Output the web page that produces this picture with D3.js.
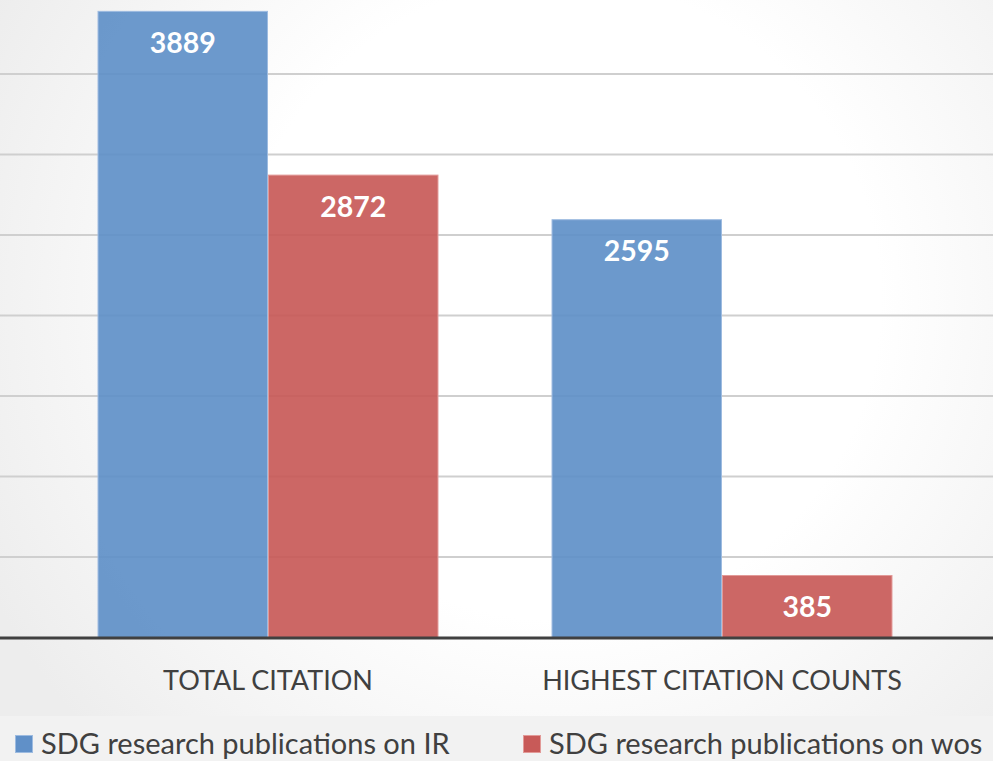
<!DOCTYPE html>
<html><head><meta charset="utf-8">
<script src="https://cdn.jsdelivr.net/npm/d3@7"></script>
<style>html,body{margin:0;padding:0;background:#fff;}svg{display:block;}</style>
</head><body>
<script>
const categories = ["TOTAL CITATION", "HIGHEST CITATION COUNTS"];
const seriesNames = ["SDG research publications on IR", "SDG research publications on wos"];
const irValues = [3889, 2595];
const wosValues = [2872, 385];
const gridTicks = [500, 1000, 1500, 2000, 2500, 3000, 3500];
const colors = ["#6090c8", "#c85a58"];

const W = 993, H = 761;
const svg = d3.select("body").append("svg").attr("width", W).attr("height", H)
  .style("font-family", "Lato, 'Open Sans', sans-serif");

const defs = svg.append("defs");
const rg = defs.append("radialGradient").attr("id", "bg").attr("gradientUnits", "userSpaceOnUse")
  .attr("cx", 560).attr("cy", 300).attr("r", 640);
rg.append("stop").attr("offset", "0.5").attr("stop-color", "#ffffff");
rg.append("stop").attr("offset", "1").attr("stop-color", "#ededed");
svg.append("rect").attr("width", W).attr("height", H).attr("fill", "url(#bg)");
svg.append("rect").attr("y", 716).attr("width", W).attr("height", H - 716).attr("fill", "#f2f2f2");

const x = d3.scaleBand().domain(categories).range([41, 949]).paddingInner(0.249).paddingOuter(0.1245);
const xs = d3.scaleBand().domain(seriesNames).range([0, x.bandwidth()]);
const y = d3.scaleLinear().domain([0, 4000]).range([637, -7]);

// gridlines
const yAxis = d3.axisLeft(y).tickValues(gridTicks).tickSize(-W).tickFormat("");
const ga = svg.append("g").call(yAxis);
ga.select(".domain").remove();
ga.selectAll(".tick line").attr("stroke", "#cfcfcf").attr("stroke-width", 2);

const rows = categories.map((c, i) => ({cat: c, vals: [irValues[i], wosValues[i]]}));
const groups = svg.append("g").selectAll("g").data(rows).join("g")
  .attr("transform", d => `translate(${x(d.cat)},0)`);
groups.selectAll("rect").data(d => d.vals.map((v, j) => ({v, s: seriesNames[j], j})))
  .join("rect")
  .attr("x", d => xs(d.s) + 0.5)
  .attr("y", d => y(d.v) + 0.5)
  .attr("width", xs.bandwidth() - 1)
  .attr("height", d => y(0) - y(d.v))
  .attr("fill", d => colors[d.j]).attr("fill-opacity", 0.92)
  .attr("stroke", d => d.j === 0 ? "#9dbbe0" : "#e29a98").attr("stroke-width", 1);

groups.selectAll("text").data(d => d.vals.map((v, j) => ({v, s: seriesNames[j], j})))
  .join("text")
  .attr("x", d => xs(d.s) + xs.bandwidth() / 2)
  .attr("y", d => y(d.v) + 42)
  .attr("text-anchor", "middle")
  .attr("fill", "#fff").attr("font-weight", "bold").attr("font-size", 28.5)
  .text(d => d.v);

// baseline
svg.append("line").attr("x1", 0).attr("x2", W).attr("y1", y(0) + 1).attr("y2", y(0) + 1)
  .attr("stroke", "#404040").attr("stroke-width", 3);

// x axis labels
const xAxis = d3.axisBottom(x).tickSize(0).tickPadding(0);
const gx = svg.append("g").call(xAxis);
gx.select(".domain").remove();
gx.selectAll(".tick text").attr("y", 690).attr("dy", null)
  .attr("font-size", 27).attr("fill", "#404040").style("font-family", "Lato, 'Open Sans', sans-serif");

// legend
const legX = [15, 523];
const lg = svg.append("g").selectAll("g").data(seriesNames).join("g")
  .attr("transform", (d, i) => `translate(${legX[i]},0)`);
lg.append("rect").attr("x", 0.5).attr("y", 735.5).attr("width", 17).attr("height", 17)
  .attr("fill", (d, i) => colors[i]).attr("stroke", (d, i) => i === 0 ? "#9dbbe0" : "#e29a98");
lg.append("text").attr("x", 26).attr("y", 754).attr("font-size", 29).attr("fill", "#404040").text(d => d);
</script>
</body></html>
